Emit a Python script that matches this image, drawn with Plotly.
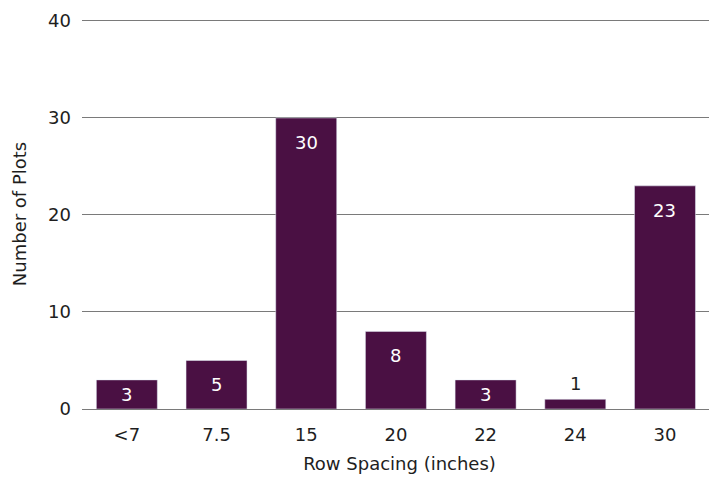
import plotly.graph_objects as go

categories = ["<7", "7.5", "15", "20", "22", "24", "30"]
counts = [3, 5, 30, 8, 3, 1, 23]
y_ticks = [0, 10, 20, 30, 40]

bar_color = "#4a1043"
text_dark = "#1e1e1e"
grid_color = "#7a7a7a"
font_family = "'DejaVu Sans', sans-serif"

fig = go.Figure(
    go.Bar(
        x=categories,
        y=counts,
        marker_color=bar_color,
        hoverinfo="x+y",
    )
)

# value labels: inside near the top of the bar, or just above very short bars
# (x given as category index, since numeric-looking category names would be
# read as numbers)
for idx, v in enumerate(counts):
    if v < 2:
        fig.add_annotation(
            x=idx, y=v, text=str(v), showarrow=False,
            yanchor="bottom", yshift=3,
            font=dict(color=text_dark, size=18, family=font_family),
        )
    else:
        fig.add_annotation(
            x=idx, y=max(v - 2.5, v / 2), text=str(v), showarrow=False,
            yanchor="middle",
            font=dict(color="white", size=18, family=font_family),
        )

# page body has an 8px default margin, so margins are offset by 8px
fig.update_layout(
    width=717,
    height=478,
    margin=dict(l=74, r=8, t=11, b=77),
    paper_bgcolor="white",
    plot_bgcolor="white",
    bargap=0.32,
    font=dict(family=font_family, color=text_dark, size=18),
    showlegend=False,
)

fig.update_xaxes(
    type="category",
    title=dict(text="Row Spacing (inches)", font=dict(size=18), standoff=13),
    tickfont=dict(size=18),
    range=[-0.5, 6.58],
    showgrid=False,
    showline=False,
    ticks="",
    ticklabelstandoff=13,
    automargin=False,
)

fig.update_yaxes(
    title=dict(text="Number of Plots", font=dict(size=18), standoff=16),
    range=[0, 40.2],
    tickvals=y_ticks,
    tickfont=dict(size=18),
    showgrid=True,
    gridcolor=grid_color,
    gridwidth=1.2,
    zeroline=True,
    zerolinecolor=grid_color,
    zerolinewidth=1.2,
    ticks="",
    ticklabelstandoff=10,
    automargin=False,
)

fig.write_html("out.html")
